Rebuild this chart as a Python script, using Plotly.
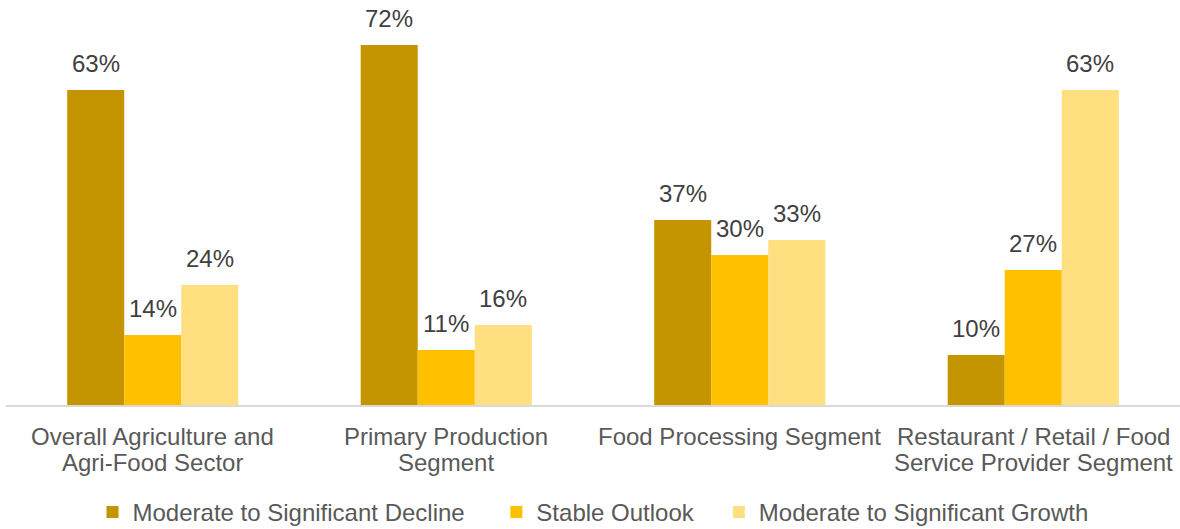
import plotly.graph_objects as go

categories = [
    "Overall Agriculture and Agri-Food Sector",
    "Primary Production Segment",
    "Food Processing Segment",
    "Restaurant / Retail / Food Service Provider Segment",
]
# category labels as they are broken over lines on the chart
category_lines = [
    ["Overall Agriculture and", "Agri-Food Sector"],
    ["Primary Production", "Segment"],
    ["Food Processing Segment"],
    ["Restaurant / Retail / Food", "Service Provider Segment"],
]
series_names = [
    "Moderate to Significant Decline",
    "Stable Outlook",
    "Moderate to Significant Growth",
]
decline = [63, 72, 37, 10]
stable = [14, 11, 30, 27]
growth = [24, 16, 33, 63]

colors = ["#C49500", "#FFC000", "#FFDF80"]
FONT = "Liberation Sans, Arial, sans-serif"
NBSP = "\u00a0"
legend_pad = [4, 3, 0]  # extra spacing after each legend entry

fig = go.Figure()

for i, (name, vals, col) in enumerate(zip(series_names, [decline, stable, growth], colors)):
    fig.add_trace(
        go.Bar(
            x=categories,
            y=vals,
            name=name + NBSP * legend_pad[i],
            marker=dict(color=col, line=dict(width=0)),
            hovertemplate=f"{name}: %{{y}}%<extra></extra>",
        )
    )
    # value labels above bars
    for cat, v in zip(categories, vals):
        fig.add_annotation(
            x=cat, y=v, xref="x", yref="y",
            text=f"{v}%",
            showarrow=False,
            xshift=(i - 1) * 57,
            yanchor="bottom",
            yshift=11,
            font=dict(size=24, color="#404040", family=FONT),
        )

# category labels
for cat, lines in zip(categories, category_lines):
    for j, line in enumerate(lines):
        fig.add_annotation(
            x=cat, xref="x", yref="paper",
            y=-0.077 - j * 0.064,
            yanchor="middle",
            text=line,
            showarrow=False,
            font=dict(size=24, color="#595959", family=FONT),
        )

fig.update_layout(
    width=1180,
    height=529,
    barmode="group",
    bargap=0.417,
    bargroupgap=0,
    plot_bgcolor="white",
    paper_bgcolor="white",
    margin=dict(l=6, r=0, t=0, b=124, autoexpand=False),
    font=dict(family=FONT, size=24, color="#595959"),
    showlegend=True,
    legend=dict(
        orientation="h",
        x=0.5,
        xanchor="center",
        y=-0.321,
        yanchor="bottom",
        font=dict(size=24, color="#595959"),
        itemwidth=30,
        tracegroupgap=0,
    ),
)

fig.update_xaxes(
    showline=True,
    linecolor="#D9D9D9",
    linewidth=2,
    showgrid=False,
    ticks="",
    showticklabels=False,
)

fig.update_yaxes(
    range=[0, 81],
    visible=False,
    showgrid=False,
)

fig.write_html(
    "out.html",
    config={"displayModeBar": False},
    post_script="document.body.style.margin='0';",
)
